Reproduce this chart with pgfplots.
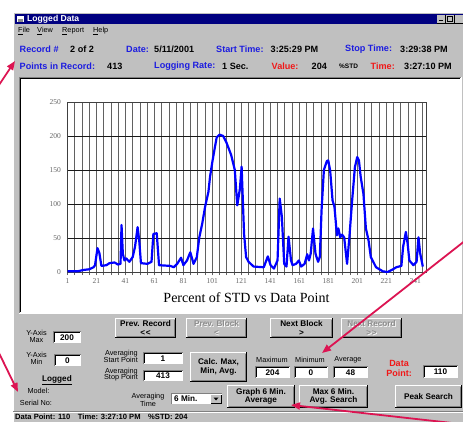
\documentclass[border=0pt]{standalone}
\usepackage{pgfplots}
\pgfplotsset{compat=1.18}
\usepackage{fontspec}
\setmainfont{Liberation Sans}
\newfontfamily\serif{Liberation Serif}
\usetikzlibrary{arrows.meta}
\definecolor{wingray}{HTML}{C0C0C0}
\definecolor{navy}{HTML}{000080}
\definecolor{uiblue}{HTML}{1C1CE0}
\definecolor{uired}{HTML}{F01818}
\definecolor{arr}{HTML}{DC1452}
\definecolor{plotblue}{HTML}{0000FF}

\newcommand{\hf}{\fontsize{9.1}{10}\selectfont\bfseries}
\newcommand{\lf}{\fontsize{7.3}{8}\selectfont}
\newcommand{\bfn}{\fontsize{8.2}{8.6}\selectfont\bfseries}

\newcommand{\btnframe}[4]{%
  \fill[wingray] (#1,#2) rectangle (#3,#4);
  \draw[white,line width=1pt] (#1+0.5,#4-0.5) -- (#1+0.5,#2+0.5) -- (#3-0.5,#2+0.5);
  \draw[black,line width=1pt] (#1,#4-0.5) -- (#3-0.5,#4-0.5) -- (#3-0.5,#2);
  \draw[black!50,line width=1pt] (#1+1.5,#4-1.5) -- (#3-1.5,#4-1.5) -- (#3-1.5,#2+1.5);}
\newcommand{\btn}[5]{\btnframe{#1}{#2}{#3}{#4}
  \node[align=center,font=\bfn,inner sep=0pt] at ({(#1+#3)/2},{(#2+#4)/2}) {#5};}
\newcommand{\dbtn}[5]{\btnframe{#1}{#2}{#3}{#4}
  \node[align=center,font=\bfn,inner sep=0pt,text=white] at ({(#1+#3)/2+0.8},{(#2+#4)/2+0.8}) {#5};
  \node[align=center,font=\bfn,inner sep=0pt,text=black!45] at ({(#1+#3)/2},{(#2+#4)/2}) {#5};}
\newcommand{\tbox}[5]{%
  \fill[white] (#1,#2) rectangle (#3,#4);
  \draw[black!50,line width=1pt] (#1+0.5,#4) -- (#1+0.5,#2+0.5) -- (#3,#2+0.5);
  \draw[black,line width=1pt] (#1+1.5,#4-1) -- (#1+1.5,#2+1.5) -- (#3-1,#2+1.5);
  \node[font=\bfn,inner sep=0pt] at ({(#1+#3)/2},{(#2+#4)/2+0.4}) {#5};}

\begin{document}
\begin{tikzpicture}
\begin{scope}[x=1pt,y=-1pt]
\useasboundingbox (0,0) rectangle (463,422);
\fill[white] (0,0) rectangle (463,422);
\fill[wingray] (13,12) rectangle (463,422);
\draw[white,line width=1pt] (13.5,422) -- (13.5,12.5) -- (463,12.5);
% title bar
\fill[navy] (15,14) rectangle (463,24);
\fill[white] (17,16) rectangle (24,22);
\fill[black!45] (18,19) rectangle (23,22);
\node[anchor=west,text=white,font=\fontsize{8.6}{9}\selectfont\bfseries,inner sep=0pt] at (27,18.8) {Logged Data};
\foreach \bx in {437,446,455}{%
  \fill[wingray] (\bx,15) rectangle (\bx+8,23);
  \draw[black] (\bx+8,15) -- (\bx+8,23) -- (\bx,23);}
\draw[black,line width=1pt] (439,21) -- (443,21);
\draw[black] (447.5,16.5) rectangle (452.5,21.5);
% menu
\node[anchor=west,font=\lf,inner sep=0pt] at (18,31.3) {\underline{F}ile};
\node[anchor=west,font=\lf,inner sep=0pt] at (37,31.3) {\underline{V}iew};
\node[anchor=west,font=\lf,inner sep=0pt] at (62,31.3) {\underline{R}eport};
\node[anchor=west,font=\lf,inner sep=0pt] at (93,31.3) {\underline{H}elp};
% header row 1
\node[anchor=west,font=\hf,text=uiblue,inner sep=0pt] at (19.5,49.3) {Record \#};
\node[anchor=west,font=\hf,inner sep=0pt] at (70,49.3) {2 of 2};
\node[anchor=west,font=\hf,text=uiblue,inner sep=0pt] at (126,49.3) {Date:};
\node[anchor=west,font=\hf,inner sep=0pt] at (154,49.3) {5/11/2001};
\node[anchor=west,font=\hf,text=uiblue,inner sep=0pt] at (216,49.3) {Start Time:};
\node[anchor=west,font=\hf,inner sep=0pt] at (270.5,49.3) {3:25:29 PM};
\node[anchor=west,font=\hf,text=uiblue,inner sep=0pt] at (345,49.3) {Stop Time:};
\node[anchor=west,font=\hf,inner sep=0pt] at (400,49.3) {3:29:38 PM};
% header row 2
\node[anchor=west,font=\hf,text=uiblue,inner sep=0pt] at (19.5,66) {Points in Record:};
\node[anchor=west,font=\hf,inner sep=0pt] at (107,66) {413};
\node[anchor=west,font=\hf,text=uiblue,inner sep=0pt] at (154,66) {Logging Rate:};
\node[anchor=west,font=\hf,inner sep=0pt] at (222,66) {1 Sec.};
\node[anchor=west,font=\hf,text=uired,inner sep=0pt] at (271.5,66) {Value:};
\node[anchor=west,font=\hf,inner sep=0pt] at (311.5,66) {204};
\node[anchor=west,font=\fontsize{6.5}{7}\selectfont\bfseries,inner sep=0pt] at (339,66) {\%STD};
\node[anchor=west,font=\hf,text=uired,inner sep=0pt] at (370.5,66) {Time:};
\node[anchor=west,font=\hf,inner sep=0pt] at (404,66) {3:27:10 PM};
% plot panel
\fill[white] (19,77) rectangle (461,313);
\draw[black!50,line width=1pt] (19.5,313) -- (19.5,77.5) -- (461,77.5);
\draw[black,line width=1pt] (20.5,312) -- (20.5,78.5) -- (460,78.5);
\draw[white,line width=1pt] (19,313.5) -- (461.5,313.5) -- (461.5,77);
\node[font=\serif\fontsize{14}{16}\selectfont,inner sep=0pt] at (246.5,297.5) {Percent of STD vs Data Point};
% lower controls
\node[align=center,font=\lf,inner sep=0pt] at (36.5,336) {Y-Axis\\[-1.2pt]Max};
\tbox{53}{331}{81}{343}{200}
\node[align=center,font=\lf,inner sep=0pt] at (36.5,358) {Y-Axis\\[-1.2pt]Min};
\tbox{54}{354}{81}{366}{0}
\node[font=\bfn,inner sep=0pt] at (57,380) {\underline{Logged}};
\node[font=\lf,inner sep=0pt] at (38.5,391) {Model:};
\node[font=\lf,inner sep=0pt] at (36,403) {Serial No:};
\btn{115}{318}{176}{338}{Prev. Record\\<\kern0.5pt<}
\dbtn{186}{318}{247}{338}{Prev. Block\\<}
\btn{270}{318}{333}{338}{Next Block\\>}
\dbtn{341}{318}{402}{338}{Next Record\\>\kern0.5pt>}
\node[align=right,anchor=east,font=\lf,inner sep=0pt] at (138,356.5) {Averaging\\[-1.5pt]Start Point};
\tbox{143}{352}{183}{364}{1}
\node[align=right,anchor=east,font=\lf,inner sep=0pt] at (138,374.5) {Averaging\\[-1.5pt]Stop Point};
\tbox{143}{370}{183}{381}{413}
\btn{190}{352}{247}{382}{Calc. Max,\\Min, Avg.}
\node[font=\lf,inner sep=0pt] at (272,360) {Maximum};
\node[font=\lf,inner sep=0pt] at (310,360) {Minimum};
\node[font=\lf,inner sep=0pt] at (348,360) {Average};
\tbox{255}{366}{290}{378}{204}
\tbox{294}{366}{328}{378}{0}
\tbox{333}{366}{368}{378}{48}
\node[align=center,font=\fontsize{9}{10.5}\selectfont\bfseries,text=uired,inner sep=0pt] at (399,368.5) {Data\\Point:};
\tbox{423}{365}{458}{378}{110}
\node[align=center,font=\lf,inner sep=0pt] at (148,400) {Averaging\\[-0.5pt]Time};
\fill[white] (171,393) rectangle (222,404);
\draw[black!50,line width=1pt] (171.5,404) -- (171.5,393.5) -- (222,393.5);
\node[anchor=west,font=\bfn,inner sep=0pt] at (174,398.8) {6 Min.};
\fill[wingray] (211,394.5) rectangle (221,403.5);
\draw[black] (211,403.5) -- (221,403.5) -- (221,394.5);
\fill[black] (213.5,397.5) -- (218.5,397.5) -- (216,400.5) -- cycle;
\btn{227}{385}{295}{408}{Graph 6 Min.\\Average}
\btn{299}{385}{368}{408}{Max 6 Min.\\Avg. Search}
\btn{395}{385}{462}{408}{Peak Search}
% status bar
\draw[black!50,line width=1pt] (13,411.5) -- (463,411.5);
\draw[white,line width=1pt] (13,412.5) -- (463,412.5);
\node[anchor=north west,font=\fontsize{7.6}{8}\selectfont\bfseries,inner sep=0pt] at (15,414) {Data Point: 110\quad Time: 3:27:10 PM\quad \%STD: 204};
\end{scope}

\begin{axis}[
  at={(67.5pt,-272pt)}, anchor=south west,
  scale only axis, width=358.5pt, height=170pt,
  xmin=1, xmax=248.5, ymin=0, ymax=250,
  xtick={1,21,...,241}, minor xtick={1,6,...,246},
  ytick={0,50,...,250},
  xmajorgrids=false, xminorgrids=true, ymajorgrids=true,
  minor grid style={black!62, line width=0.75pt},
  major grid style={black!90, line width=0.8pt},
  axis line style={black!75, line width=0.9pt},
  tick align=outside, major tick length=3pt, minor tick length=3pt,
  xtick pos=bottom, ytick pos=left,
  major y tick style={draw=none},
  tick style={black!62, line width=0.75pt},
  ticklabel style={font=\serif\fontsize{7.5}{8}\selectfont, text=black!60},
  /pgf/number format/assume math mode=true,
]
\addplot[plotblue, line width=2.2pt, line join=round] coordinates {
(1,1)(4,1)(8,1)(12,3)(16,4)(19,7)(20,10)(21.7,35)(23,28)(24.4,9)(27.8,10)(30,13)(33.5,14)(35.8,11)(37.6,12)(38.3,69)(39.2,27)(40.3,17)(41.5,20)(43.7,15)(46,22)(47.6,37)(49.4,66)(50.5,47)(51.7,13)(56.2,12)(59,15)(60.3,56)(62.6,57)(64.2,10)(72,9)(74.4,7)(76.7,12)(79.4,21)(81,10)(83.5,17)(85.8,29)(88,12)(90.3,22)(92,51)(94,71)(96,96)(98.3,118)(99.4,140)(101,162)(102.8,184)(104,198)(106,202)(108.5,200)(110.8,190)(114,172)(116.5,150)(118.2,98)(120,122)(121.2,155)(122.9,56)(124.3,22)(126,15)(129.5,8)(136.5,7)(139.3,23)(141.2,10)(143.5,5)(146,17)(147.5,108)(149,81)(150.6,12)(152.2,8)(153.6,52)(155.3,17)(156.4,10)(158.8,12)(160.7,17)(162.3,8)(164.7,12)(166.5,26)(167.7,17)(168.9,27)(170.5,64)(172.2,27)(174,15)(175.2,22)(176.4,91)(178,150)(180,163)(181,164)(182.3,150)(184,105)(185.3,96)(187,54)(188,64)(189.3,51)(190.5,55)(192,51)(194,12)(195.6,51)(197.5,105)(199.4,154)(201,169)(202.2,164)(203.4,140)(205.3,115)(207,64)(208.8,47)(210.4,22)(214,7)(218.7,1)(222,0)(225.7,4)(228,7)(231.5,9)(232.7,37)(234.6,59)(235.8,42)(237,17)(239.8,10)(242,15)(243.3,51)(244.5,27)(246.3,8)
};
\end{axis}

\begin{scope}[x=1pt,y=-1pt]
\clip (0,0) rectangle (463,422);
\draw[arr,line width=1.8pt,-{Triangle[length=9pt,width=7pt]}] (-1,85) -- (15,61);
\draw[arr,line width=1.8pt,-{Triangle[length=9pt,width=7pt]}] (-1,353) -- (18,392);
\draw[arr,line width=1.8pt,-{Triangle[length=9pt,width=7pt]}] (466,240) -- (322,353);
\draw[arr,line width=1.8pt,-{Triangle[length=9pt,width=7pt]}] (470,425) -- (291,405);
\end{scope}
\end{tikzpicture}
\end{document}
